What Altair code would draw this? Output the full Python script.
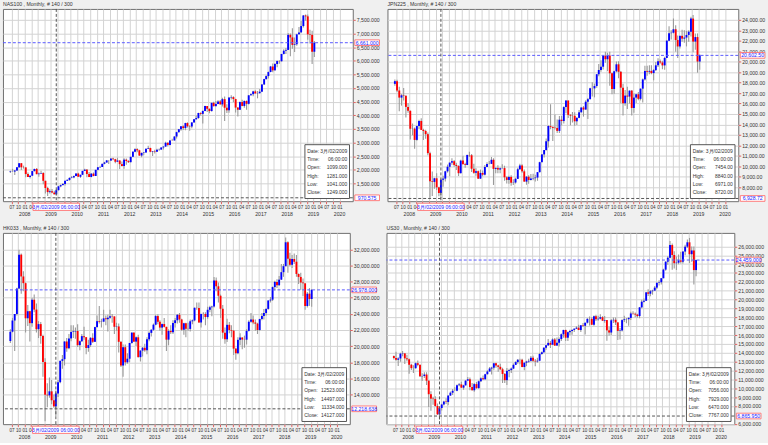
import altair as alt
import pandas as pd

# ---------------- data (monthly candles Jun 2007 .. Jan 2019) ----------------
months = pd.date_range("2007-06-01", periods=140, freq="MS")
candle_dates = months + pd.Timedelta(days=14)

nas_open = [1920,1934,1932,1975,2091,2239,2089,
 2085,1841,1734,1781,1950,2030,1837,1860,1880,1594,1329,1180,
 1212,1162,1099,1249,1391,1435,1477,1594,1628,1700,1718,1768,
 1860,1742,1815,1957,2003,1842,1732,1856,1771,1997,2091,2100,
 2218,2265,2342,2338,2410,2386,2294,2339,2205,2136,2370,2319,
 2278,2474,2664,2755,2713,2521,2616,2632,2772,2799,2659,2677,
 2661,2731,2739,2818,2849,2988,2910,3077,3073,3219,3379,3487,
 3592,3530,3712,3596,3586,3736,3850,3896,4082,4050,4158,4337,
 4236,4152,4454,4333,4415,4508,4397,4589,4275,4181,4648,4664,
 4593,4280,4202,4484,4341,4524,4418,4731,4772,4875,4801,4810,
 4864,5129,5326,5436,5584,5788,5647,5880,5988,5980,6248,6367,
 6397,6950,6854,6581,6605,6967,7040,7272,7660,7627,6967,6950,
 6330]
nas_high = [1965,2035,1985,2095,2239,2245,2150,
 2090,1900,1800,1955,2040,2060,1900,1960,1905,1600,1380,1280,
 1290,1230,1281,1410,1460,1510,1600,1650,1720,1770,1790,1870,
 1890,1820,1960,2040,2030,1920,1880,1900,2000,2100,2150,2220,
 2290,2360,2350,2420,2440,2400,2440,2350,2300,2420,2410,2350,
 2480,2670,2790,2790,2730,2630,2650,2780,2880,2810,2690,2730,
 2770,2780,2820,2860,3030,3010,3080,3140,3230,3390,3490,3600,
 3630,3720,3740,3630,3740,3860,3990,4090,4110,4170,4350,4340,
 4250,4460,4490,4520,4550,4560,4640,4690,4400,4650,4730,4700,
 4600,4300,4500,4570,4540,4540,4740,4810,4900,4920,4890,4960,
 5140,5340,5470,5600,5810,5900,5920,6010,6020,6250,6420,6470,
 7020,7000,7190,6850,6990,7240,7460,7680,7700,7700,7140,7100,
 6720]
nas_low = [1880,1920,1805,1955,2060,1990,2040,
 1720,1730,1680,1770,1935,1830,1740,1840,1470,1130,1040,1130,
 1140,1090,1041,1240,1360,1430,1420,1590,1600,1690,1690,1760,
 1740,1700,1810,1950,1720,1730,1720,1760,1770,1980,2060,2100,
 2200,2260,2210,2320,2350,2240,2290,2030,2120,2040,2180,2250,
 2270,2470,2640,2640,2500,2460,2530,2620,2760,2640,2500,2600,
 2660,2700,2730,2740,2840,2850,2900,3060,3070,3150,3360,3430,
 3460,3450,3550,3430,3520,3730,3840,3870,3990,3700,4150,4120,
 4070,4140,4320,4320,4400,4390,4320,3790,4080,4090,4580,4480,
 4100,3950,4190,4330,4270,4200,4390,4720,4700,4790,4620,4790,
 4850,5110,5300,5350,5580,5580,5640,5760,5890,5970,6230,6250,
 6390,6160,6440,6320,6550,6960,7030,7220,7470,6770,6630,5880,
 6140]
nas_close = [1934,1932,1975,2091,2239,2089,2085,
 1841,1734,1781,1950,2030,1837,1860,1880,1594,1329,1180,1212,
 1162,1099,1249,1391,1435,1477,1594,1628,1700,1718,1768,1860,
 1742,1815,1957,2003,1842,1732,1856,1771,1997,2091,2100,2218,
 2265,2342,2338,2410,2386,2294,2339,2205,2136,2370,2319,2278,
 2474,2664,2755,2713,2521,2616,2632,2772,2799,2659,2677,2661,
 2731,2739,2818,2849,2988,2910,3077,3073,3219,3379,3487,3592,
 3530,3712,3596,3586,3736,3850,3896,4082,4050,4158,4337,4236,
 4152,4454,4333,4415,4508,4397,4589,4275,4181,4648,4664,4593,
 4280,4202,4484,4341,4524,4418,4731,4772,4875,4801,4810,4864,
 5129,5326,5436,5584,5788,5647,5880,5988,5980,6248,6367,6397,
 6950,6854,6581,6605,6967,7040,7272,7660,7627,6967,6950,6330,
 6661]

jpn_open = [17880,18138,17248,16569,16785,16737,15680,
 15307,13592,13603,12525,13849,14338,13481,13376,13072,11259,8576,8512,
 8859,7994,7454,8720,8828,9522,9958,10356,10492,10133,10034,9345,
 10546,10198,10126,11089,11057,9768,9382,9537,8824,9369,9202,9937,
 10228,10237,10624,9755,9849,9693,9816,9833,8955,8700,8988,8434,
 8455,8802,9723,10083,9521,8542,9006,8695,8839,8870,8928,9446,
 10395,11138,11559,12397,13860,13774,13677,13668,13388,14455,14327,15662,
 16291,14914,14841,14828,14304,14632,15162,15621,15425,16174,16414,17460,
 17450,17674,18798,19207,19520,20563,20236,20585,18890,17388,19083,19747,
 19034,17518,16027,16759,16666,17235,15576,16569,16887,16450,17425,18308,
 19114,19041,19119,18909,19197,19651,20033,19925,19646,20356,22012,22725,
 22765,23098,22068,21454,22468,22202,22305,22554,22865,24120,21920,22351,
 20015]
jpn_high = [18300,18280,17600,16900,17490,16800,16040,
 15330,14090,13700,13900,14440,14600,13600,13500,13240,11400,9500,8900,
 9330,8050,8840,9100,9580,10170,10360,10770,10600,10340,10100,10640,
 11000,10350,11100,11400,11180,10240,9810,9600,9690,9600,10120,10400,
 10520,10890,10770,9900,10100,9900,10200,10060,9050,9100,9150,8770,
 8910,9870,10250,10200,9690,9070,9140,9260,9290,9200,9460,10430,
 11190,11500,12650,13900,15940,13800,14950,14470,14820,14810,15730,16320,
 16280,15000,15200,15160,14700,15380,15650,15760,16320,16530,17520,18030,
 17900,18820,19780,20130,20570,20950,20850,20950,18950,19140,20010,20050,
 19100,17900,17300,17600,17250,17300,16950,16880,17100,17430,18400,19600,
 19600,19670,19670,19300,19970,20320,20200,20100,20460,22020,23380,23000,
 24130,23480,22500,22500,23050,23000,22950,23000,24300,24450,22700,22700,
 20700]
jpn_low = [17700,17100,15260,15800,16300,14670,15130,
 12570,12970,11690,12450,13550,13470,12520,12630,11060,6990,7160,7860,
 7740,7150,6971,8050,8560,9400,9050,10160,9970,9650,9080,9310,
 10190,9870,10100,10900,9450,9300,9090,8800,8800,9050,9120,9950,
 10190,10220,8220,9340,9350,9330,9800,8620,8360,8340,8140,8220,
 8350,8800,9650,9380,8530,8240,8330,8640,8660,8540,8620,9400,
 10390,10840,11500,11800,13550,12410,13520,13180,13190,13900,14100,15080,
 14630,13920,14200,13880,13960,14600,15150,14750,15400,14530,16400,16670,
 16590,17500,18600,19030,19250,19900,19110,17710,16900,16930,19000,18410,
 16020,14860,15800,15470,16000,14860,15120,16050,16320,16300,16100,18200,
 18650,18800,18800,18220,19100,19500,19800,19280,19240,20350,21970,22120,
 22700,20950,20350,21260,21900,21800,21460,21900,22400,20900,21150,18950,
 19240]
jpn_close = [18138,17248,16569,16785,16737,15680,15307,
 13592,13603,12525,13849,14338,13481,13376,13072,11259,8576,8512,8859,
 7994,7454,8720,8828,9522,9958,10356,10492,10133,10034,9345,10546,
 10198,10126,11089,11057,9768,9382,9537,8824,9369,9202,9937,10228,
 10237,10624,9755,9849,9693,9816,9833,8955,8700,8988,8434,8455,
 8802,9723,10083,9521,8542,9006,8695,8839,8870,8928,9446,10395,
 11138,11559,12397,13860,13774,13677,13668,13388,14455,14327,15662,16291,
 14914,14841,14828,14304,14632,15162,15621,15425,16174,16414,17460,17450,
 17674,18798,19207,19520,20563,20236,20585,18890,17388,19083,19747,19034,
 17518,16027,16759,16666,17235,15576,16569,16887,16450,17425,18308,19114,
 19041,19119,18909,19197,19651,20033,19925,19646,20356,22012,22725,22765,
 23098,22068,21454,22468,22202,22305,22554,22865,24120,21920,22351,20015,
 20602]

hk_open = [20630,21773,23184,23984,27142,31352,28643,
 27812,23456,24332,22849,25755,24533,22102,22731,21261,18016,13969,13888,
 14387,13278,12523,14127,15521,18171,18379,20573,19724,20955,21753,21822,
 21873,20122,20609,21239,21108,19765,20129,21030,20536,22358,23096,23008,
 23035,23447,23338,23528,23720,23684,22398,22440,20535,17592,19864,17989,
 18434,20390,21680,20556,21094,18630,19441,19796,19482,20840,21642,22030,
 22657,23730,23020,22300,22737,22392,20803,21883,21731,22860,23206,23882,
 23306,22035,22837,22151,22134,23082,23191,24757,24742,22933,23998,23987,
 23605,24507,24823,24901,28133,27424,26250,24636,21671,20846,22640,21996,
 21914,19683,19112,20777,21067,20815,20794,21891,23023,23297,22935,22790,
 22001,23361,23741,24112,24615,25661,25765,27324,27970,27554,28246,29177,
 29919,32887,30845,30093,30808,30469,28955,28583,27889,27789,24980,26507,
 25846]
hk_high = [22100,23500,24000,27250,31960,31500,29300,
 27900,25100,24400,26000,26400,25300,23100,23000,21400,18500,15400,16100,
 15800,14000,14497,15800,18200,18900,20600,21000,21500,22600,22600,22300,
 22700,20700,21500,22400,21100,20800,21100,21600,22400,23800,24990,23400,
 24500,23800,23900,24500,24000,23700,22900,22800,20600,20200,20200,19100,
 20400,21700,21700,21200,21400,19500,19900,20300,21100,21800,22100,22800,
 23900,23950,23200,22800,23500,22400,22100,22600,23200,23500,24000,24100,
 23400,22900,22900,22900,23300,23300,24800,25400,25400,24000,24200,24200,
 24900,25000,25000,28588,28500,27900,26400,25100,22300,23400,23000,22600,
 22000,19800,21100,21600,21100,21300,22100,23200,24100,23800,23300,22900,
 23400,24100,24600,24700,25700,26100,27400,28100,28300,28700,30200,30200,
 33480,33000,31600,31300,31500,31300,29000,29100,28400,27800,26700,27200,
 27100]
hk_low = [20400,21700,19400,23800,27100,26500,26800,
 21700,22500,20570,22400,24200,21700,21000,20300,16200,10680,12400,13600,
 12800,12360,11334,13700,15400,17200,17600,19300,19600,20600,21000,20900,
 19900,19500,20500,20800,19000,19300,19900,20400,20500,22300,22800,22300,
 23000,22600,21800,23400,22900,21500,21900,19200,17400,16200,17600,17800,
 18000,20300,20500,20000,18600,18100,18700,19300,19000,20600,21200,21900,
 22600,22700,21900,21400,22300,19400,20100,21500,21500,22300,22800,22900,
 21900,21400,21100,21900,21800,22700,23100,24500,22900,22300,23300,22600,
 23400,24200,23700,24800,26800,25400,23500,20900,20300,20500,21600,21100,
 18900,18300,19000,20100,19600,19800,20200,21800,22900,22700,21900,21500,
 21900,23200,23300,23800,24500,25400,25600,26900,27200,27500,28200,28600,
 29900,29100,29900,29700,30200,28600,27700,27000,26200,24500,24800,25000,
 24900]
hk_close = [21773,23184,23984,27142,31352,28643,27812,
 23456,24332,22849,25755,24533,22102,22731,21261,18016,13969,13888,14387,
 13278,12523,14127,15521,18171,18379,20573,19724,20955,21753,21822,21873,
 20122,20609,21239,21108,19765,20129,21030,20536,22358,23096,23008,23035,
 23447,23338,23528,23720,23684,22398,22440,20535,17592,19864,17989,18434,
 20390,21680,20556,21094,18630,19441,19796,19482,20840,21642,22030,22657,
 23730,23020,22300,22737,22392,20803,21883,21731,22860,23206,23882,23306,
 22035,22837,22151,22134,23082,23191,24757,24742,22933,23998,23987,23605,
 24507,24823,24901,28133,27424,26250,24636,21671,20846,22640,21996,21914,
 19683,19112,20777,21067,20815,20794,21891,23023,23297,22935,22790,22001,
 23361,23741,24112,24615,25661,25765,27324,27970,27554,28246,29177,29919,
 32887,30845,30093,30808,30469,28955,28583,27889,27789,24980,26507,25846,
 26978]

us_open = [13630,13408,13212,13358,13896,13930,13372,
 13265,12650,12266,12263,12820,12638,11350,11378,11544,10851,9325,8829,
 8776,8001,7056,7767,8168,8500,8447,9172,9496,9712,9713,10345,
 10428,10067,10325,10857,11009,10137,9774,10466,10015,10788,11118,11006,
 11578,11892,12226,12320,12811,12570,12414,12143,11614,10913,11955,12046,
 12218,12633,12952,13212,13214,12393,12880,13009,13091,13437,13096,13026,
 13104,13861,14054,14579,14840,15116,14910,15500,14810,15130,15546,16086,
 16577,15699,16322,16458,16581,16717,16827,16563,17098,17043,17391,17828,
 17823,17165,18133,17776,17841,18011,17620,17690,16528,16285,17664,17720,
 17425,16466,16517,17685,17774,17787,17930,18432,18401,18308,18142,19124,
 19763,19864,20812,20663,20941,21009,21350,21891,21948,22405,23377,24272,
 24719,26149,25029,24103,24163,24416,24271,25415,25965,26458,25116,25538,
 23327]
us_high = [13700,14120,13500,14000,14200,13960,13790,
 13350,12770,12580,12900,13140,12650,11700,11800,11800,10900,9660,9030,
 9090,8280,7929,8240,8580,8880,9200,9630,9920,10120,10410,10580,
 10730,10400,10900,11260,11210,10600,10590,10720,10860,11250,11450,11630,
 12020,12390,12420,12880,12880,12640,12750,12300,11720,12280,12200,12330,
 12790,13050,13300,13340,13340,12900,13100,13330,13650,13660,13290,13430,
 13970,14150,14590,14890,15540,15340,15640,15660,15710,15720,16180,16590,
 16590,16400,16590,16630,16740,16980,17150,17120,17350,17400,17900,18100,
 18000,18200,18290,18180,18350,18130,18140,17700,16930,17800,17980,17980,
 17450,16800,17790,18170,17930,18020,18620,18670,18540,18400,19150,19990,
 20130,20850,21170,21070,21110,21530,21930,22180,22420,23490,24330,24880,
 26620,26310,25450,24860,25090,25400,25470,26170,26770,26950,25980,25980,
 24480]
us_low = [13250,13100,12520,13000,13600,12720,13050,
 11630,12050,11730,12200,12470,11280,10830,11150,10360,7880,7450,8150,
 7900,6990,6470,7490,8050,8230,8090,9130,9250,9680,9670,10230,
 10030,9830,10300,10850,9770,9740,9610,9940,9940,10710,10930,11000,
 11560,11860,11560,12090,12320,11860,12050,10600,10600,10360,11230,11730,
 12180,12610,12760,12710,12370,12040,12490,12880,12980,12970,12470,12880,
 13100,13780,14000,14340,14760,14550,14900,14760,14770,14720,15330,15700,
 15340,15340,16000,16020,16330,16680,16560,16330,16900,16050,17290,17070,
 17140,17040,17580,17600,17740,17580,17400,15370,15940,16010,17350,17130,
 15450,15500,16400,17480,17330,17060,17710,18290,18010,17960,17880,19030,
 19680,19830,20410,20380,20550,20990,21200,21600,21710,22400,23240,23920,
 24660,23360,23510,23340,23990,24080,24080,25000,25810,24120,24270,21710,
 22640]
us_close = [13408,13212,13358,13896,13930,13372,13265,
 12650,12266,12263,12820,12638,11350,11378,11544,10851,9325,8829,8776,
 8001,7056,7767,8168,8500,8447,9172,9496,9712,9713,10345,10428,
 10067,10325,10857,11009,10137,9774,10466,10015,10788,11118,11006,11578,
 11892,12226,12320,12811,12570,12414,12143,11614,10913,11955,12046,12218,
 12633,12952,13212,13214,12393,12880,13009,13091,13437,13096,13026,13104,
 13861,14054,14579,14840,15116,14910,15500,14810,15130,15546,16086,16577,
 15699,16322,16458,16581,16717,16827,16563,17098,17043,17391,17828,17823,
 17165,18133,17776,17841,18011,17620,17690,16528,16285,17664,17720,17425,
 16466,16517,17685,17774,17787,17930,18432,18401,18308,18142,19124,19763,
 19864,20812,20663,20941,21009,21350,21891,21948,22405,23377,24272,24719,
 26149,25029,24103,24163,24416,24271,25415,25965,26458,25116,25538,23327,
 24459]

for arr in [nas_open, nas_high, nas_low, nas_close, jpn_open, jpn_high, jpn_low, jpn_close,
            hk_open, hk_high, hk_low, hk_close, us_open, us_high, us_low, us_close]:
    assert len(arr) == 140, len(arr)

info_labels = ["Date:", "Time:", "Open:", "High:", "Low:", "Close:"]
year_labels = [str(y) for y in range(2008, 2021)]
cross_date_text = "3月/02/2009 06:00:00"

# ---------------- styling ----------------
FONT = "Liberation Sans"
FS = 5.2
FSX = 4.6
TXT = "#333333"
GRID = "#d2d2d2"
TICK = "#e06060"
UP = "#0000ff"
DOWN = "#ff0000"
WICK = "#9a9a9a"
LINE_BLUE = "#5a5aff"
PINK = "#ff7070"
BOX_TXT = "#2020ff"
RPATH = "M-1,-0.23H1V0.23H-1Z"
DPATH = "M-1,-0.155H1V0.155H-1Z"
ROW_H = 8.4

XDOM = [alt.DateTime(year=2007, month=5, date=12), alt.DateTime(year=2020, month=4, date=25)]
tick_vals = []
y, m = 2007, 7
while (y, m) <= (2020, 1):
    tick_vals.append(alt.DateTime(year=y, month=m, date=1))
    m += 3
    if m > 12:
        m -= 12
        y += 1
# month labels hidden under the crosshair date box (Jul 2008 .. Jan 2010)
X_LABEL_EXPR = ("(datum.value >= datetime(2008, 5, 15) && datum.value <= datetime(2010, 0, 15))"
                " ? '' : timeFormat(datum.value, '%m')")
CROSS_DATE = pd.Timestamp("2009-03-15")
years_df = pd.DataFrame({"date": pd.to_datetime([f"{s}-01-01" for s in year_labels]), "label": year_labels})
one = pd.DataFrame({"a": [0]})


def panel(title, o, h, l, c, ydom, yticks, fmt, last_val, last_txt, cross_val, cross_txt, info_vals, W, H):
    xs = alt.Scale(domain=XDOM)
    ys = alt.Scale(domain=ydom, nice=False, zero=False)
    df = pd.DataFrame({"date": candle_dates, "open": o, "high": h, "low": l, "close": c})
    xaxis = alt.Axis(values=tick_vals, labelExpr=X_LABEL_EXPR, title=None,
                     labelOverlap=False, labelFlush=False, grid=True, labelFontSize=FSX)
    yaxis = alt.Axis(orient="right", values=yticks, format=fmt, title=None,
                     labelOverlap=False, labelFlush=False, grid=True)
    X = lambda f: alt.X(f, scale=xs, axis=xaxis)
    Y = lambda f: alt.Y(f, scale=ys, axis=yaxis)
    wick = alt.Chart(df).mark_rule(color=WICK, strokeWidth=1.1).encode(
        x=X("date:T"), y=Y("low:Q"), y2="high:Q")
    body = alt.Chart(df).mark_bar(size=1.9).encode(
        x=X("date:T"), y=Y("open:Q"), y2="close:Q",
        color=alt.condition("datum.close >= datum.open", alt.value(UP), alt.value(DOWN)))
    hline = alt.Chart(pd.DataFrame({"v": [last_val]})).mark_rule(
        color=LINE_BLUE, strokeDash=[3, 2], strokeWidth=1).encode(y=Y("v:Q"))
    cline = alt.Chart(pd.DataFrame({"v": [cross_val]})).mark_rule(
        color="#555555", strokeDash=[3, 2], strokeWidth=1).encode(y=Y("v:Q"))
    vline = alt.Chart(pd.DataFrame({"d": [CROSS_DATE]})).mark_rule(
        color="#555555", strokeDash=[3, 2], strokeWidth=1).encode(x=X("d:T"))
    ibox = alt.Chart(one).mark_rect(fill="white", stroke="#555555", strokeWidth=1).encode(
        x=alt.value(W - 48.3), x2=alt.value(W - 3.3), y=alt.value(H - 57), y2=alt.value(H - 2.7))
    info_df = pd.DataFrame({"lab": info_labels, "val": info_vals,
                            "off": [i * ROW_H for i in range(6)]})
    ilab = alt.Chart(info_df).mark_text(align="left", baseline="middle",
                                        fontSize=5, font=FONT, color=TXT).encode(
        x=alt.value(W - 46), y=alt.value(H - 51),
        yOffset=alt.YOffset("off:Q", scale=None), text="lab:N")
    ival = alt.Chart(info_df).mark_text(align="right", baseline="middle",
                                        fontSize=5, font=FONT, color=TXT).encode(
        x=alt.value(W - 5.5), y=alt.value(H - 51),
        yOffset=alt.YOffset("off:Q", scale=None), text="val:N")
    box_df = pd.DataFrame({"v": [last_val, cross_val], "t": [last_txt, cross_txt]})
    rbox = alt.Chart(box_df).mark_point(shape=RPATH, size=620, filled=True, fill="white",
                                        stroke=PINK, strokeWidth=0.9, opacity=1).encode(
        x=alt.value(W + 14.5), y=Y("v:Q"))
    rtxt = alt.Chart(box_df).mark_text(fontSize=FS, font=FONT, color=BOX_TXT).encode(
        x=alt.value(W + 14.5), y=Y("v:Q"), text="t:N")
    dbox = alt.Chart(pd.DataFrame({"d": [CROSS_DATE]})).mark_point(
        shape=DPATH, size=2209, filled=True, fill="white", stroke=PINK, strokeWidth=0.9, opacity=1).encode(
        x=X("d:T"), y=alt.value(H + 5.7))
    dtxt = alt.Chart(pd.DataFrame({"d": [CROSS_DATE]})).mark_text(
        text=cross_date_text, fontSize=5, font=FONT, color=BOX_TXT).encode(
        x=X("d:T"), y=alt.value(H + 5.7))
    ytxt = alt.Chart(years_df).mark_text(fontSize=FS, font=FONT, color=TXT).encode(
        x=X("date:T"), y=alt.value(H + 12.5), text="label:N")
    ttl = alt.Chart(one).mark_text(text=title, align="left", fontSize=FS, font=FONT, color=TXT).encode(
        x=alt.value(0), y=alt.value(-4.5))
    return alt.layer(wick, body, hline, cline, vline, ibox, ilab, ival,
                     rbox, rtxt, dbox, dtxt, ytxt, ttl).properties(width=W, height=H)


p1 = panel("NAS100 , Monthly, # 140 / 300", nas_open, nas_high, nas_low, nas_close,
           [846, 7900], list(range(1500, 7501, 500)), ",.3f", 6661, "6,661.000", 970.575, "970.575",
           ["3月/02/2009", "06:00:00", "1099.000", "1281.000", "1041.000", "1249.000"], 353, 194)
p2 = panel("JPN225 , Monthly, # 140 / 300", jpn_open, jpn_high, jpn_low, jpn_close,
           [6670, 25040], list(range(8000, 24001, 1000)), ",.2f", 20602.5, "20,602.50", 6928.72, "6,928.72",
           ["3月/02/2009", "06:00:00", "7454.00", "8840.00", "6971.00", "8720.00"], 354, 194)
p3 = panel("HK033 , Monthly, # 140 / 300", hk_open, hk_high, hk_low, hk_close,
           [10315, 34050], list(range(14000, 32001, 2000)), ",.3f", 26978, "26,978.000", 12218.638, "12,218.638",
           ["3月/02/2009", "06:00:00", "12523.000", "14497.000", "11334.000", "14127.000"], 350, 193)
p4 = panel("US30 , Monthly, # 140 / 300", us_open, us_high, us_low, us_close,
           [5950, 27520], [6000] + list(range(8000, 26001, 1000)), ",.3f", 24459, "24,459.000", 6865.95, "6,865.950",
           ["3月/02/2009", "06:00:00", "7056.000", "7929.000", "6470.000", "7767.000"], 351, 193)

top = alt.hconcat(p1, p2, spacing=4)
bot = alt.hconcat(p3, p4, spacing=6)
chart = alt.vconcat(top, bot, spacing=8).properties(
    padding={"left": 2, "top": 0, "right": 0, "bottom": 0}
).configure(background="#f0f0f0").configure_view(
    fill="white", stroke="#6e6e6e", strokeWidth=1
).configure_axis(
    grid=True, gridColor=GRID, gridWidth=1, gridOpacity=1,
    tickColor=TICK, tickSize=2.5, tickWidth=1,
    labelFontSize=FS, labelFont=FONT, labelColor=TXT, labelPadding=1,
    domain=False, labelOverlap=False, labelFlush=False, titleFontSize=1
)

chart.save("out.html", embed_options={"renderer": "svg", "actions": False})
